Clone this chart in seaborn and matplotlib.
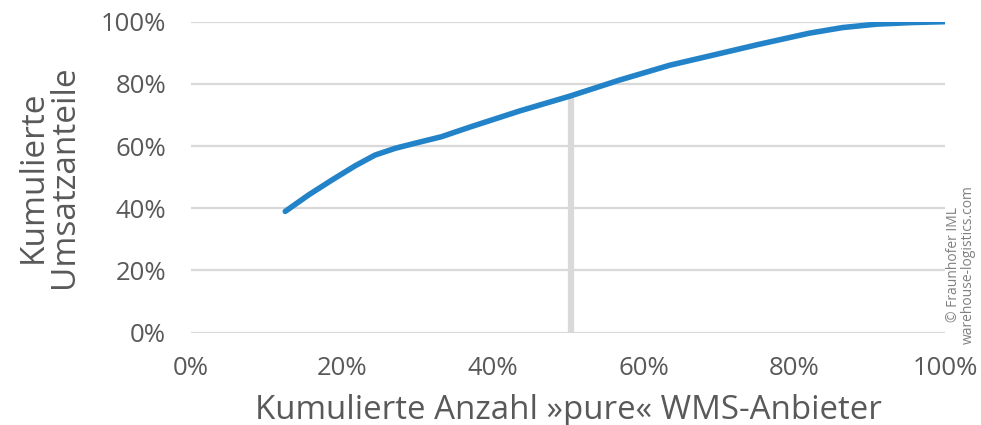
import seaborn as sns
import matplotlib.pyplot as plt
from matplotlib.ticker import PercentFormatter

# Werte (in %)
anzahl_anteil = [12.5, 15.6, 18.7, 21.8, 24.4, 27.1, 29.7, 33.2, 37.1,
                 43.6, 50.3, 56.8, 63.5, 68.8, 75.3, 82.0, 86.4, 90.9,
                 95.4, 100.0]
umsatz_anteil = [39.0, 44.3, 49.1, 53.7, 57.1, 59.3, 60.9, 63.0, 66.2,
                 71.3, 76.1, 81.2, 86.0, 89.0, 92.7, 96.3, 98.1, 99.2,
                 99.7, 100.0]

# Markierung bei 50 % der Anbieter
marker_x = 50.4
marker_y = 76.0

y_ticks = [0, 20, 40, 60, 80, 100]
x_ticks = [0, 20, 40, 60, 80, 100]

sns.set_style("white")
plt.rcParams["font.family"] = ["Open Sans", "DejaVu Sans"]

text_grey = "#595959"
grid_grey = "#d9d9d9"

fig = plt.figure(figsize=(9.81, 4.25), dpi=100)
ax = fig.add_axes([0.1947, 0.2172, 0.7686, 0.7318])

for t in y_ticks:
    ax.axhline(t, color=grid_grey, lw=1.6, zorder=1)

ax.vlines(marker_x, 0, marker_y, color=grid_grey, lw=4.5, zorder=2)

sns.lineplot(x=anzahl_anteil, y=umsatz_anteil, ax=ax, color="#2383c9",
             lw=4, zorder=3, solid_capstyle="round", solid_joinstyle="round")

ax.set_xlim(0, 100)
ax.set_ylim(0, 100)
ax.set_xticks(x_ticks)
ax.set_yticks(y_ticks)
ax.xaxis.set_major_formatter(PercentFormatter(decimals=0))
ax.yaxis.set_major_formatter(PercentFormatter(decimals=0))
ax.tick_params(axis="both", length=0, colors=text_grey, labelsize=18.5)
ax.tick_params(axis="x", pad=17)
ax.tick_params(axis="y", pad=18)

for s in ax.spines.values():
    s.set_visible(False)

ax.set_xlabel("Kumulierte Anzahl »pure« WMS-Anbieter", fontsize=23.8,
              color=text_grey, labelpad=9)
ax.set_ylabel("Kumulierte\nUmsatzanteile", fontsize=24, color=text_grey,
              labelpad=14, linespacing=0.95)

fig.text(0.9795, 0.19, "© Fraunhofer IML\nwarehouse-logistics.com",
         rotation=90, fontsize=10, color="#808080", ha="center", va="bottom",
         linespacing=1.0)

fig.savefig("out.png", dpi=100)
